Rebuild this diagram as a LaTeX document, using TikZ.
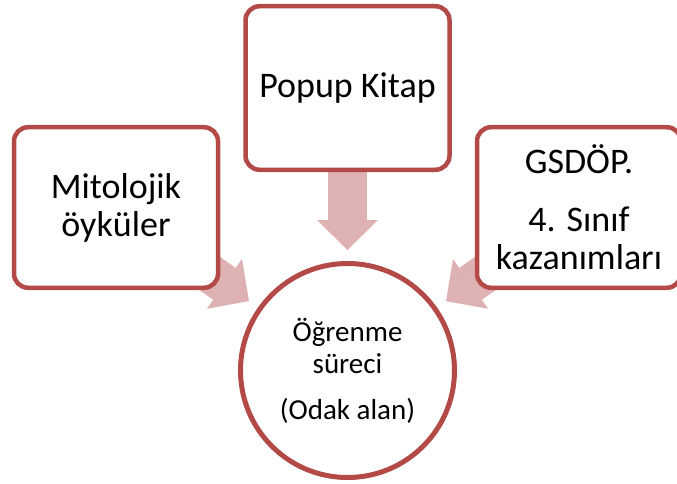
\documentclass[tikz,border=0pt]{standalone}
\usepackage{fontspec}
\setmainfont{Carlito}
\usepackage{tikz}
\usetikzlibrary{arrows.meta,backgrounds}

\definecolor{boxred}{RGB}{180,74,71}
\definecolor{arrowpink}{RGB}{222,178,178}

\tikzset{
  topicbox/.style={draw=boxred, line width=4.5pt, fill=white, rounded corners=14pt,
    minimum width=204pt, minimum height=160.5pt, inner sep=0pt, align=center,
    font=\fontsize{36}{38}\selectfont},
  focuscircle/.style={circle, draw=boxred, line width=5pt, fill=white,
    minimum size=214pt, inner sep=0pt, align=center,
    font=\fontsize{29}{32}\selectfont},
  blockarrow/.style={draw=arrowpink, line width=39pt, shorten >=11pt,
    -{Triangle[width=61pt,length=30pt,line width=0pt,fill=arrowpink]}}
}

\begin{document}
\begin{tikzpicture}[x=1pt,y=-1pt]
    \useasboundingbox (0,0) rectangle (677,484);
    \clip (0,0) rectangle (677,484);

    % Top box
    \node[topicbox, minimum height=163.5pt] (popup) at (347.5,88) {Popup Kitap};

    % Side boxes
    \node[topicbox] (mito) at (116,207.5) {Mitolojik\\öyküler};
    \node[topicbox] (gsdop) at (579,207.5) {GSDÖP.\\[20pt]4. Sınıf\\kazanımları};

    % Focus circle
    \node[focuscircle] (focus) at (347.5,370.5) {Öğrenme\\süreci\\[14pt](Odak alan)};

    % Arrows
    \begin{scope}[on background layer]
        \draw[blockarrow] (popup.center) -- (focus);
        \draw[blockarrow] (mito.center) -- (focus);
        \draw[blockarrow] (gsdop.center) -- (focus);
    \end{scope}
\end{tikzpicture}
\end{document}
